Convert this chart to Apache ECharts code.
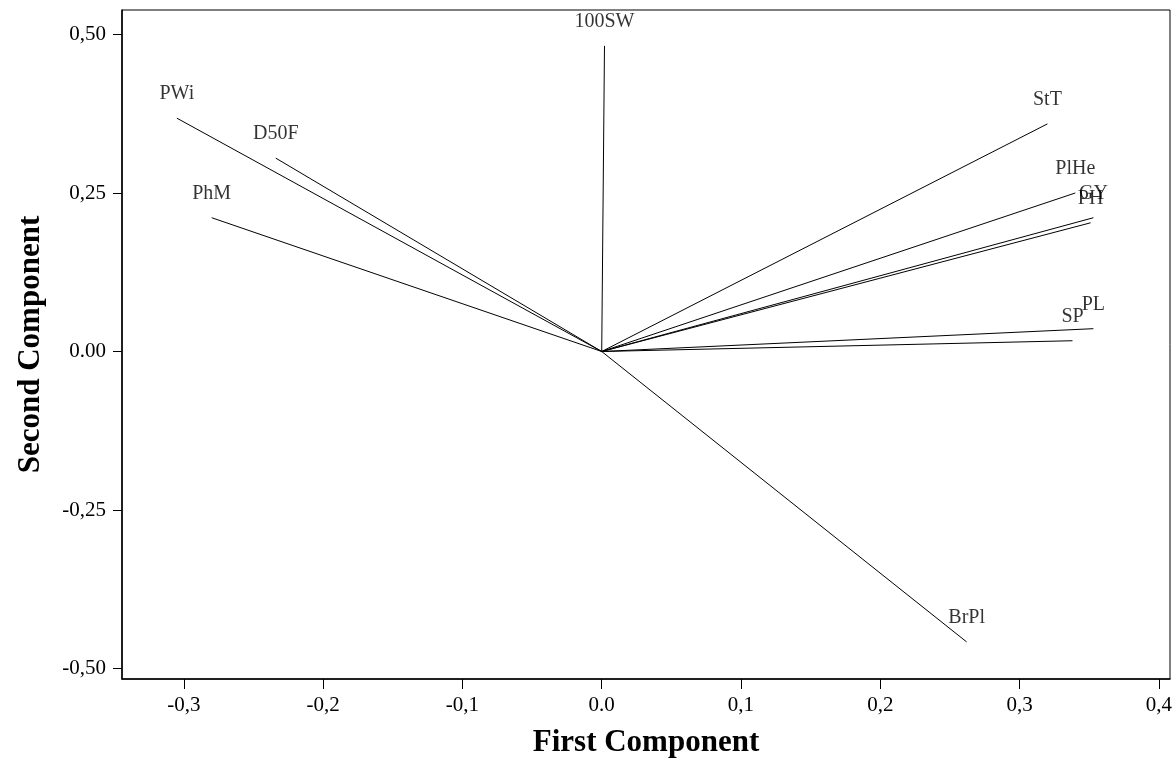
<!DOCTYPE html>
<html>
<head>
<meta charset="utf-8">
<script src="https://cdn.jsdelivr.net/npm/echarts@6/dist/echarts.min.js"></script>
<style>html,body{margin:0;padding:0;background:#fff}#c{width:1176px;height:763px}</style>
</head>
<body>
<div id="c"></div>
<script>
const names = ['100SW','PWi','D50F','PhM','StT','PlHe','GY','PH','PL','SP','BrPl'];
const pc1 = [0.002, -0.305, -0.234, -0.280, 0.320, 0.340, 0.353, 0.351, 0.353, 0.338, 0.262];
const pc2 = [0.482, 0.368, 0.305, 0.211, 0.359, 0.250, 0.211, 0.203, 0.036, 0.017, -0.458];
const xTicks = [-0.3, -0.2, -0.1, 0.0, 0.1, 0.2, 0.3, 0.4];
const yTicks = [-0.5, -0.25, 0.0, 0.25, 0.5];

const FONT = "'Liberation Serif', 'Times New Roman', serif";
function fmt(v, d) {
  if (Math.abs(v) < 1e-9) return (0).toFixed(d);
  return v.toFixed(d).replace('.', ',');
}

const chart = echarts.init(document.getElementById('c'), null, {renderer: 'canvas'});
const series = names.map((n, i) => ({
  type: 'line',
  name: n,
  data: [[0, 0], [pc1[i], pc2[i]]],
  symbol: 'none',
  silent: true,
  lineStyle: {color: '#000', width: 1},
  z: 2
}));
series.push({
  type: 'scatter',
  data: names.map((n, i) => ({name: n, value: [pc1[i], pc2[i]]})),
  symbolSize: 0,
  silent: true,
  label: {
    show: true,
    position: 'top',
    distance: 14,
    formatter: '{b}',
    color: '#000',
    fontFamily: FONT,
    fontSize: 20
  },
  z: 3
});

chart.setOption({
  animation: false,
  backgroundColor: '#fff',
  grid: {left: 122, right: 6, top: 10, bottom: 79, show: true, borderColor: '#000', borderWidth: 1, containLabel: false},
  xAxis: {
    type: 'value',
    min: -0.3444, max: 0.408,
    name: 'First Component',
    nameLocation: 'middle',
    nameGap: 48,
    nameTextStyle: {fontFamily: FONT, fontWeight: 'bold', fontSize: 31, color: '#000'},
    axisLine: {show: true, onZero: false, lineStyle: {color: '#000', width: 1.5}},
    axisTick: {show: true, length: 10, lineStyle: {color: '#000'}, customValues: xTicks},
    axisLabel: {color: '#000', fontFamily: FONT, fontSize: 21, margin: 16, customValues: xTicks, formatter: v => fmt(v, 1)},
    splitLine: {show: false}
  },
  yAxis: {
    type: 'value',
    min: -0.5165, max: 0.5386,
    name: 'Second Component',
    nameLocation: 'middle',
    nameGap: 76,
    nameTextStyle: {fontFamily: FONT, fontWeight: 'bold', fontSize: 31, color: '#000'},
    axisLine: {show: true, onZero: false, lineStyle: {color: '#000', width: 1.5}},
    axisTick: {show: true, length: 9, lineStyle: {color: '#000'}, customValues: yTicks},
    axisLabel: {color: '#000', fontFamily: FONT, fontSize: 21, margin: 16, customValues: yTicks, formatter: v => fmt(v, 2)},
    splitLine: {show: false}
  },
  series: series
});
</script>
</body>
</html>
